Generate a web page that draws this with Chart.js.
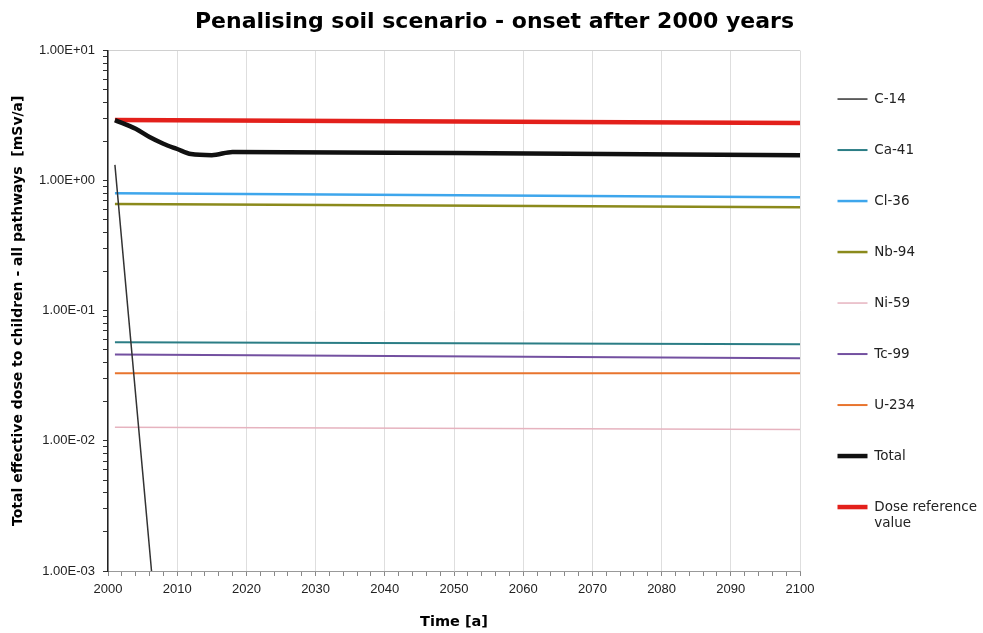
<!DOCTYPE html>
<html>
<head>
<meta charset="utf-8">
<script src="https://cdn.jsdelivr.net/npm/chart.js@4/dist/chart.umd.min.js"></script>
<style>
  html, body { margin: 0; padding: 0; background: #fff; }
  #wrap { width: 983px; height: 633px; position: relative; }
</style>
</head>
<body>
<div id="wrap"><canvas id="chart"></canvas></div>
<script>
// values (mSv/a)
const flatYears = [2001, 2100];
const c14Years = [2001, 2003, 2005, 2007];
const c14 = [1.32, 0.087, 0.0058, 0.00038];
const ca41 = [0.0573, 0.0552];
const cl36 = [0.80, 0.746];
const nb94 = [0.66, 0.625];
const ni59 = [0.0127, 0.01225];
const tc99 = [0.0462, 0.0431];
const u234 = [0.0331, 0.0331];
const totalYears = [2001, 2004, 2006, 2008, 2010, 2012, 2015, 2018, 2050, 2100];
const total = [2.92, 2.5, 2.16, 1.92, 1.75, 1.6, 1.57, 1.66, 1.63, 1.57];
const doseRef = [2.92, 2.77];

const xTicks = [2000, 2010, 2020, 2030, 2040, 2050, 2060, 2070, 2080, 2090, 2100];

const pts = (xs, ys) => xs.map((x, i) => ({ x, y: ys[i] }));

const line = (label, xs, ys, color, width) => ({
    label,
    data: pts(xs, ys),
    borderColor: color,
    backgroundColor: color,
    borderWidth: width,
    pointRadius: 0,
    fill: false,
});

const isPow10 = (v) => {
    const l = Math.log10(v);
    return Math.abs(l - Math.round(l)) < 1e-9;
};

const sci = (v) => {
    const [m, e] = v.toExponential(2).toUpperCase().split('E');
    const n = parseInt(e, 10);
    return m + 'E' + (n < 0 ? '-' : '+') + String(Math.abs(n)).padStart(2, '0');
};

const totalSet = line('Total', totalYears, total, '#111111', 4.5);
totalSet.cubicInterpolationMode = 'monotone';

new Chart(document.getElementById('chart'), {
    type: 'line',
    data: {
        datasets: [
            line('C-14', c14Years, c14, '#333333', 1.5),
            line('Ca-41', flatYears, ca41, '#2b7d85', 2),
            line('Cl-36', flatYears, cl36, '#3ea6ec', 2.5),
            line('Nb-94', flatYears, nb94, '#8b8a1c', 2.5),
            line('Ni-59', flatYears, ni59, '#e6b3bf', 1.5),
            line('Tc-99', flatYears, tc99, '#7350a0', 2),
            line('U-234', flatYears, u234, '#e8742e', 2),
            totalSet,
            line(['Dose reference', 'value'], flatYears, doseRef, '#e3201b', 4.5),
        ],
    },
    options: {
        responsive: true,
        maintainAspectRatio: false,
        animation: false,
        layout: { padding: { left: 6, right: 0, top: 0, bottom: 0 } },
        plugins: {
            title: {
                display: true,
                text: 'Penalising soil scenario - onset after 2000 years',
                color: '#000',
                font: { family: 'DejaVu Sans', size: 22, weight: 'bold' },
                padding: { top: 8.8, bottom: 15.3 },
            },
            legend: {
                position: 'right',
                align: 'start',
                maxWidth: 183,
                // empty title only pushes the items down below the chart title
                title: { display: true, text: '', font: { size: 4 }, padding: { top: 0, bottom: 50 } },
                labels: {
                    usePointStyle: true,
                    pointStyle: 'line',
                    pointStyleWidth: 30,
                    padding: 37.5,
                    color: '#222',
                    font: { family: 'DejaVu Sans', size: 13.5 },
                },
            },
            tooltip: { enabled: false },
        },
        scales: {
            x: {
                type: 'linear',
                min: 2000,
                max: 2100,
                afterFit: (scale) => { scale.height = 62; },
                ticks: {
                    stepSize: 2,
                    autoSkip: false,
                    maxRotation: 0,
                    padding: 6,
                    color: '#222',
                    font: { family: 'Liberation Sans', size: 13 },
                    callback: (v) => (xTicks.includes(v) ? String(v) : ''),
                },
                grid: {
                    color: (ctx) => (ctx.tick && xTicks.includes(ctx.tick.value) ? '#dedede' : 'transparent'),
                    tickColor: '#888',
                    tickLength: 5,
                },
                border: { color: '#999', width: 1 },
                title: {
                    display: true,
                    text: 'Time [a]',
                    color: '#000',
                    font: { family: 'DejaVu Sans', size: 14.5, weight: 'bold' },
                    padding: { top: 10, bottom: 2.3 },
                },
            },
            y: {
                type: 'logarithmic',
                min: 0.001,
                max: 10,
                afterFit: (scale) => { scale.width = 102; },
                afterBuildTicks: (scale) => {
                    scale.ticks = scale.ticks.filter((t) => {
                        const s = t.value / Math.pow(10, Math.floor(Math.log10(t.value) + 1e-9));
                        return Math.abs(s - Math.round(s)) < 1e-6;
                    });
                },
                ticks: {
                    autoSkip: false,
                    padding: 8,
                    color: '#222',
                    font: { family: 'Liberation Sans', size: 13 },
                    callback: (v) => (isPow10(v) ? sci(v) : ''),
                },
                grid: {
                    color: (ctx) => (ctx.tick && ctx.tick.value === 10 ? '#d0d0d0' : 'transparent'),
                    tickColor: '#333',
                    tickLength: 5,
                },
                border: { color: '#222', width: 1.5 },
                title: {
                    display: true,
                    text: 'Total effective dose to children - all pathways  [mSv/a]',
                    color: '#000',
                    font: { family: 'DejaVu Sans', size: 14, weight: 'bold' },
                    padding: { top: 3.6, bottom: 4 },
                },
            },
        },
    },
});
</script>
</body>
</html>
